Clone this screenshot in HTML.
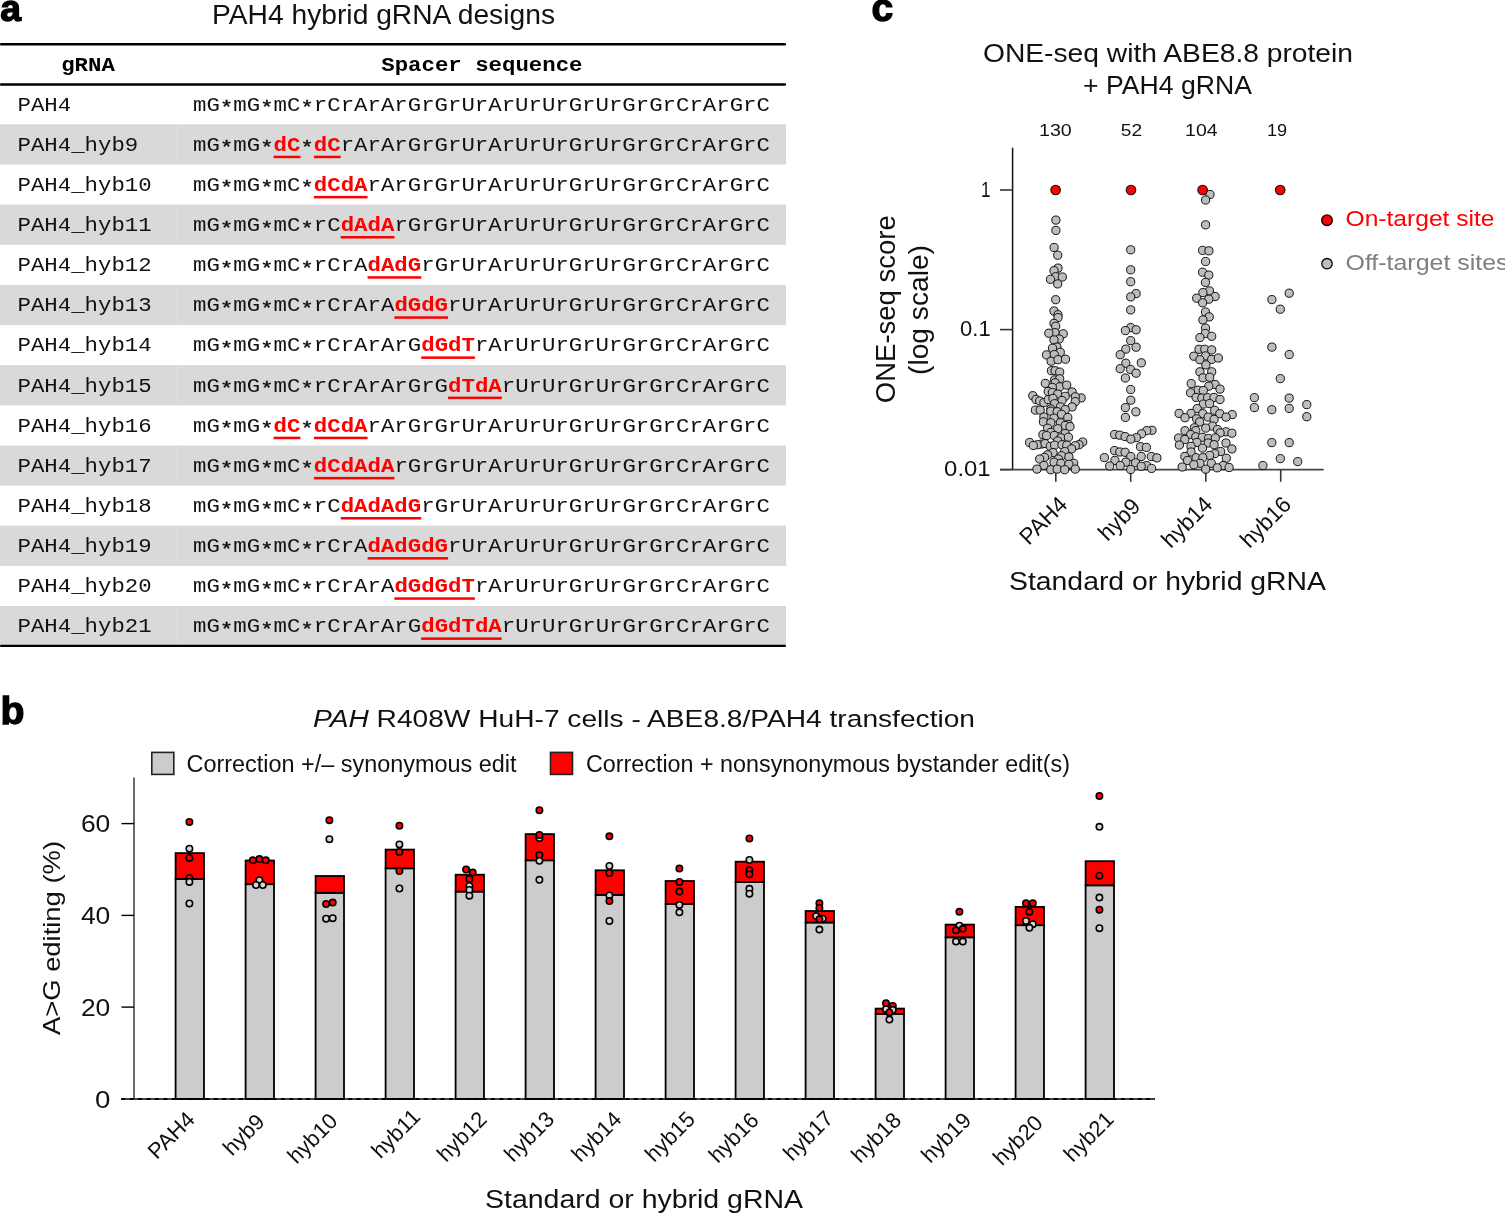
<!DOCTYPE html>
<html><head><meta charset="utf-8"><title>PAH4 hybrid gRNA designs</title>
<style>html,body{margin:0;padding:0;background:#fff;}body{width:1505px;height:1215px;overflow:hidden;}svg{display:block;}</style>
</head><body>
<svg width="1505" height="1215" viewBox="0 0 1505 1215">
<rect width="1505" height="1215" fill="#fff"/>
<text x="0.3" y="21.3" font-size="37.3" font-weight="bold" font-family='"Liberation Sans", "DejaVu Sans", sans-serif' fill="#000" stroke="#000" stroke-width="1.3">a</text>
<text x="212.0" y="24.3" font-size="27" font-family='"Liberation Sans", "DejaVu Sans", sans-serif' textLength="343.0" lengthAdjust="spacingAndGlyphs" fill="#111" >PAH4 hybrid gRNA designs</text>
<rect x="0" y="43.1" width="786" height="2.4" rx="1" fill="#000"/>
<rect x="0" y="83.3" width="786" height="2.5" rx="1" fill="#000"/>
<text transform="matrix(1,0,0,0.875,61.20,70.80)" font-size="22.37" font-family='"Liberation Mono", "DejaVu Sans Mono", monospace' xml:space="preserve"><tspan x="0.00" y="0" font-weight="bold" fill="#000">gRNA</tspan></text>
<text transform="matrix(1,0,0,0.875,381.30,70.80)" font-size="22.37" font-family='"Liberation Mono", "DejaVu Sans Mono", monospace' xml:space="preserve"><tspan x="0.00" y="0" font-weight="bold" fill="#000">Spacer sequence</tspan></text>
<text transform="matrix(1,0,0,0.875,17.50,110.60)" font-size="22.37" font-family='"Liberation Mono", "DejaVu Sans Mono", monospace' xml:space="preserve"><tspan x="0.00" y="0" fill="#111">PAH4</tspan></text>
<text transform="matrix(1,0,0,0.875,193.10,110.60)" font-size="22.37" font-family='"Liberation Mono", "DejaVu Sans Mono", monospace' xml:space="preserve"><tspan x="0.00" y="0" fill="#111">mG</tspan><tspan x="26.97" y="2.97" font-size="21.92" stroke="#111" stroke-width="0.55" fill="#111">*</tspan><tspan x="40.26" y="0" fill="#111">mG</tspan><tspan x="67.23" y="2.97" font-size="21.92" stroke="#111" stroke-width="0.55" fill="#111">*</tspan><tspan x="80.52" y="0" fill="#111">mC</tspan><tspan x="107.49" y="2.97" font-size="21.92" stroke="#111" stroke-width="0.55" fill="#111">*</tspan><tspan x="120.78" y="0" fill="#111">rCrArArGrGrUrArUrUrGrUrGrGrCrArGrC</tspan></text>
<rect x="0" y="124.3" width="786" height="40.2" fill="#d9d9d9"/>
<rect x="176" y="124.3" width="1" height="40.2" fill="#dedede"/>
<text transform="matrix(1,0,0,0.875,17.50,150.74)" font-size="22.37" font-family='"Liberation Mono", "DejaVu Sans Mono", monospace' xml:space="preserve"><tspan x="0.00" y="0" fill="#111">PAH4_hyb9</tspan></text>
<rect x="273.6" y="155.7" width="26.8" height="2.5" fill="#ff0000"/>
<rect x="313.9" y="155.7" width="26.8" height="2.5" fill="#ff0000"/>
<text transform="matrix(1,0,0,0.875,193.10,150.74)" font-size="22.37" font-family='"Liberation Mono", "DejaVu Sans Mono", monospace' xml:space="preserve"><tspan x="0.00" y="0" fill="#111">mG</tspan><tspan x="26.97" y="2.97" font-size="21.92" stroke="#111" stroke-width="0.55" fill="#111">*</tspan><tspan x="40.26" y="0" fill="#111">mG</tspan><tspan x="67.23" y="2.97" font-size="21.92" stroke="#111" stroke-width="0.55" fill="#111">*</tspan><tspan x="80.52" y="0" font-weight="bold" fill="#ff0000">dC</tspan><tspan x="107.49" y="2.97" font-size="21.92" stroke="#111" stroke-width="0.55" fill="#111">*</tspan><tspan x="120.78" y="0" font-weight="bold" fill="#ff0000">dC</tspan><tspan x="147.62" y="0" fill="#111">rArArGrGrUrArUrUrGrUrGrGrCrArGrC</tspan></text>
<text transform="matrix(1,0,0,0.875,17.50,190.88)" font-size="22.37" font-family='"Liberation Mono", "DejaVu Sans Mono", monospace' xml:space="preserve"><tspan x="0.00" y="0" fill="#111">PAH4_hyb10</tspan></text>
<rect x="313.9" y="195.9" width="53.7" height="2.5" fill="#ff0000"/>
<text transform="matrix(1,0,0,0.875,193.10,190.88)" font-size="22.37" font-family='"Liberation Mono", "DejaVu Sans Mono", monospace' xml:space="preserve"><tspan x="0.00" y="0" fill="#111">mG</tspan><tspan x="26.97" y="2.97" font-size="21.92" stroke="#111" stroke-width="0.55" fill="#111">*</tspan><tspan x="40.26" y="0" fill="#111">mG</tspan><tspan x="67.23" y="2.97" font-size="21.92" stroke="#111" stroke-width="0.55" fill="#111">*</tspan><tspan x="80.52" y="0" fill="#111">mC</tspan><tspan x="107.49" y="2.97" font-size="21.92" stroke="#111" stroke-width="0.55" fill="#111">*</tspan><tspan x="120.78" y="0" font-weight="bold" fill="#ff0000">dCdA</tspan><tspan x="174.46" y="0" fill="#111">rArGrGrUrArUrUrGrUrGrGrCrArGrC</tspan></text>
<rect x="0" y="204.6" width="786" height="40.2" fill="#d9d9d9"/>
<rect x="176" y="204.6" width="1" height="40.2" fill="#dedede"/>
<text transform="matrix(1,0,0,0.875,17.50,231.02)" font-size="22.37" font-family='"Liberation Mono", "DejaVu Sans Mono", monospace' xml:space="preserve"><tspan x="0.00" y="0" fill="#111">PAH4_hyb11</tspan></text>
<rect x="340.7" y="236.0" width="53.7" height="2.5" fill="#ff0000"/>
<text transform="matrix(1,0,0,0.875,193.10,231.02)" font-size="22.37" font-family='"Liberation Mono", "DejaVu Sans Mono", monospace' xml:space="preserve"><tspan x="0.00" y="0" fill="#111">mG</tspan><tspan x="26.97" y="2.97" font-size="21.92" stroke="#111" stroke-width="0.55" fill="#111">*</tspan><tspan x="40.26" y="0" fill="#111">mG</tspan><tspan x="67.23" y="2.97" font-size="21.92" stroke="#111" stroke-width="0.55" fill="#111">*</tspan><tspan x="80.52" y="0" fill="#111">mC</tspan><tspan x="107.49" y="2.97" font-size="21.92" stroke="#111" stroke-width="0.55" fill="#111">*</tspan><tspan x="120.78" y="0" fill="#111">rC</tspan><tspan x="147.62" y="0" font-weight="bold" fill="#ff0000">dAdA</tspan><tspan x="201.30" y="0" fill="#111">rGrGrUrArUrUrGrUrGrGrCrArGrC</tspan></text>
<text transform="matrix(1,0,0,0.875,17.50,271.16)" font-size="22.37" font-family='"Liberation Mono", "DejaVu Sans Mono", monospace' xml:space="preserve"><tspan x="0.00" y="0" fill="#111">PAH4_hyb12</tspan></text>
<rect x="367.6" y="276.2" width="53.7" height="2.5" fill="#ff0000"/>
<text transform="matrix(1,0,0,0.875,193.10,271.16)" font-size="22.37" font-family='"Liberation Mono", "DejaVu Sans Mono", monospace' xml:space="preserve"><tspan x="0.00" y="0" fill="#111">mG</tspan><tspan x="26.97" y="2.97" font-size="21.92" stroke="#111" stroke-width="0.55" fill="#111">*</tspan><tspan x="40.26" y="0" fill="#111">mG</tspan><tspan x="67.23" y="2.97" font-size="21.92" stroke="#111" stroke-width="0.55" fill="#111">*</tspan><tspan x="80.52" y="0" fill="#111">mC</tspan><tspan x="107.49" y="2.97" font-size="21.92" stroke="#111" stroke-width="0.55" fill="#111">*</tspan><tspan x="120.78" y="0" fill="#111">rCrA</tspan><tspan x="174.46" y="0" font-weight="bold" fill="#ff0000">dAdG</tspan><tspan x="228.14" y="0" fill="#111">rGrUrArUrUrGrUrGrGrCrArGrC</tspan></text>
<rect x="0" y="284.9" width="786" height="40.2" fill="#d9d9d9"/>
<rect x="176" y="284.9" width="1" height="40.2" fill="#dedede"/>
<text transform="matrix(1,0,0,0.875,17.50,311.30)" font-size="22.37" font-family='"Liberation Mono", "DejaVu Sans Mono", monospace' xml:space="preserve"><tspan x="0.00" y="0" fill="#111">PAH4_hyb13</tspan></text>
<rect x="394.4" y="316.3" width="53.7" height="2.5" fill="#ff0000"/>
<text transform="matrix(1,0,0,0.875,193.10,311.30)" font-size="22.37" font-family='"Liberation Mono", "DejaVu Sans Mono", monospace' xml:space="preserve"><tspan x="0.00" y="0" fill="#111">mG</tspan><tspan x="26.97" y="2.97" font-size="21.92" stroke="#111" stroke-width="0.55" fill="#111">*</tspan><tspan x="40.26" y="0" fill="#111">mG</tspan><tspan x="67.23" y="2.97" font-size="21.92" stroke="#111" stroke-width="0.55" fill="#111">*</tspan><tspan x="80.52" y="0" fill="#111">mC</tspan><tspan x="107.49" y="2.97" font-size="21.92" stroke="#111" stroke-width="0.55" fill="#111">*</tspan><tspan x="120.78" y="0" fill="#111">rCrArA</tspan><tspan x="201.30" y="0" font-weight="bold" fill="#ff0000">dGdG</tspan><tspan x="254.98" y="0" fill="#111">rUrArUrUrGrUrGrGrCrArGrC</tspan></text>
<text transform="matrix(1,0,0,0.875,17.50,351.44)" font-size="22.37" font-family='"Liberation Mono", "DejaVu Sans Mono", monospace' xml:space="preserve"><tspan x="0.00" y="0" fill="#111">PAH4_hyb14</tspan></text>
<rect x="421.2" y="356.4" width="53.7" height="2.5" fill="#ff0000"/>
<text transform="matrix(1,0,0,0.875,193.10,351.44)" font-size="22.37" font-family='"Liberation Mono", "DejaVu Sans Mono", monospace' xml:space="preserve"><tspan x="0.00" y="0" fill="#111">mG</tspan><tspan x="26.97" y="2.97" font-size="21.92" stroke="#111" stroke-width="0.55" fill="#111">*</tspan><tspan x="40.26" y="0" fill="#111">mG</tspan><tspan x="67.23" y="2.97" font-size="21.92" stroke="#111" stroke-width="0.55" fill="#111">*</tspan><tspan x="80.52" y="0" fill="#111">mC</tspan><tspan x="107.49" y="2.97" font-size="21.92" stroke="#111" stroke-width="0.55" fill="#111">*</tspan><tspan x="120.78" y="0" fill="#111">rCrArArG</tspan><tspan x="228.14" y="0" font-weight="bold" fill="#ff0000">dGdT</tspan><tspan x="281.82" y="0" fill="#111">rArUrUrGrUrGrGrCrArGrC</tspan></text>
<rect x="0" y="365.2" width="786" height="40.2" fill="#d9d9d9"/>
<rect x="176" y="365.2" width="1" height="40.2" fill="#dedede"/>
<text transform="matrix(1,0,0,0.875,17.50,391.58)" font-size="22.37" font-family='"Liberation Mono", "DejaVu Sans Mono", monospace' xml:space="preserve"><tspan x="0.00" y="0" fill="#111">PAH4_hyb15</tspan></text>
<rect x="448.1" y="396.6" width="53.7" height="2.5" fill="#ff0000"/>
<text transform="matrix(1,0,0,0.875,193.10,391.58)" font-size="22.37" font-family='"Liberation Mono", "DejaVu Sans Mono", monospace' xml:space="preserve"><tspan x="0.00" y="0" fill="#111">mG</tspan><tspan x="26.97" y="2.97" font-size="21.92" stroke="#111" stroke-width="0.55" fill="#111">*</tspan><tspan x="40.26" y="0" fill="#111">mG</tspan><tspan x="67.23" y="2.97" font-size="21.92" stroke="#111" stroke-width="0.55" fill="#111">*</tspan><tspan x="80.52" y="0" fill="#111">mC</tspan><tspan x="107.49" y="2.97" font-size="21.92" stroke="#111" stroke-width="0.55" fill="#111">*</tspan><tspan x="120.78" y="0" fill="#111">rCrArArGrG</tspan><tspan x="254.98" y="0" font-weight="bold" fill="#ff0000">dTdA</tspan><tspan x="308.66" y="0" fill="#111">rUrUrGrUrGrGrCrArGrC</tspan></text>
<text transform="matrix(1,0,0,0.875,17.50,431.72)" font-size="22.37" font-family='"Liberation Mono", "DejaVu Sans Mono", monospace' xml:space="preserve"><tspan x="0.00" y="0" fill="#111">PAH4_hyb16</tspan></text>
<rect x="273.6" y="436.7" width="26.8" height="2.5" fill="#ff0000"/>
<rect x="313.9" y="436.7" width="53.7" height="2.5" fill="#ff0000"/>
<text transform="matrix(1,0,0,0.875,193.10,431.72)" font-size="22.37" font-family='"Liberation Mono", "DejaVu Sans Mono", monospace' xml:space="preserve"><tspan x="0.00" y="0" fill="#111">mG</tspan><tspan x="26.97" y="2.97" font-size="21.92" stroke="#111" stroke-width="0.55" fill="#111">*</tspan><tspan x="40.26" y="0" fill="#111">mG</tspan><tspan x="67.23" y="2.97" font-size="21.92" stroke="#111" stroke-width="0.55" fill="#111">*</tspan><tspan x="80.52" y="0" font-weight="bold" fill="#ff0000">dC</tspan><tspan x="107.49" y="2.97" font-size="21.92" stroke="#111" stroke-width="0.55" fill="#111">*</tspan><tspan x="120.78" y="0" font-weight="bold" fill="#ff0000">dCdA</tspan><tspan x="174.46" y="0" fill="#111">rArGrGrUrArUrUrGrUrGrGrCrArGrC</tspan></text>
<rect x="0" y="445.5" width="786" height="40.2" fill="#d9d9d9"/>
<rect x="176" y="445.5" width="1" height="40.2" fill="#dedede"/>
<text transform="matrix(1,0,0,0.875,17.50,471.86)" font-size="22.37" font-family='"Liberation Mono", "DejaVu Sans Mono", monospace' xml:space="preserve"><tspan x="0.00" y="0" fill="#111">PAH4_hyb17</tspan></text>
<rect x="313.9" y="476.9" width="80.5" height="2.5" fill="#ff0000"/>
<text transform="matrix(1,0,0,0.875,193.10,471.86)" font-size="22.37" font-family='"Liberation Mono", "DejaVu Sans Mono", monospace' xml:space="preserve"><tspan x="0.00" y="0" fill="#111">mG</tspan><tspan x="26.97" y="2.97" font-size="21.92" stroke="#111" stroke-width="0.55" fill="#111">*</tspan><tspan x="40.26" y="0" fill="#111">mG</tspan><tspan x="67.23" y="2.97" font-size="21.92" stroke="#111" stroke-width="0.55" fill="#111">*</tspan><tspan x="80.52" y="0" fill="#111">mC</tspan><tspan x="107.49" y="2.97" font-size="21.92" stroke="#111" stroke-width="0.55" fill="#111">*</tspan><tspan x="120.78" y="0" font-weight="bold" fill="#ff0000">dCdAdA</tspan><tspan x="201.30" y="0" fill="#111">rGrGrUrArUrUrGrUrGrGrCrArGrC</tspan></text>
<text transform="matrix(1,0,0,0.875,17.50,512.00)" font-size="22.37" font-family='"Liberation Mono", "DejaVu Sans Mono", monospace' xml:space="preserve"><tspan x="0.00" y="0" fill="#111">PAH4_hyb18</tspan></text>
<rect x="340.7" y="517.0" width="80.5" height="2.5" fill="#ff0000"/>
<text transform="matrix(1,0,0,0.875,193.10,512.00)" font-size="22.37" font-family='"Liberation Mono", "DejaVu Sans Mono", monospace' xml:space="preserve"><tspan x="0.00" y="0" fill="#111">mG</tspan><tspan x="26.97" y="2.97" font-size="21.92" stroke="#111" stroke-width="0.55" fill="#111">*</tspan><tspan x="40.26" y="0" fill="#111">mG</tspan><tspan x="67.23" y="2.97" font-size="21.92" stroke="#111" stroke-width="0.55" fill="#111">*</tspan><tspan x="80.52" y="0" fill="#111">mC</tspan><tspan x="107.49" y="2.97" font-size="21.92" stroke="#111" stroke-width="0.55" fill="#111">*</tspan><tspan x="120.78" y="0" fill="#111">rC</tspan><tspan x="147.62" y="0" font-weight="bold" fill="#ff0000">dAdAdG</tspan><tspan x="228.14" y="0" fill="#111">rGrUrArUrUrGrUrGrGrCrArGrC</tspan></text>
<rect x="0" y="525.7" width="786" height="40.2" fill="#d9d9d9"/>
<rect x="176" y="525.7" width="1" height="40.2" fill="#dedede"/>
<text transform="matrix(1,0,0,0.875,17.50,552.14)" font-size="22.37" font-family='"Liberation Mono", "DejaVu Sans Mono", monospace' xml:space="preserve"><tspan x="0.00" y="0" fill="#111">PAH4_hyb19</tspan></text>
<rect x="367.6" y="557.1" width="80.5" height="2.5" fill="#ff0000"/>
<text transform="matrix(1,0,0,0.875,193.10,552.14)" font-size="22.37" font-family='"Liberation Mono", "DejaVu Sans Mono", monospace' xml:space="preserve"><tspan x="0.00" y="0" fill="#111">mG</tspan><tspan x="26.97" y="2.97" font-size="21.92" stroke="#111" stroke-width="0.55" fill="#111">*</tspan><tspan x="40.26" y="0" fill="#111">mG</tspan><tspan x="67.23" y="2.97" font-size="21.92" stroke="#111" stroke-width="0.55" fill="#111">*</tspan><tspan x="80.52" y="0" fill="#111">mC</tspan><tspan x="107.49" y="2.97" font-size="21.92" stroke="#111" stroke-width="0.55" fill="#111">*</tspan><tspan x="120.78" y="0" fill="#111">rCrA</tspan><tspan x="174.46" y="0" font-weight="bold" fill="#ff0000">dAdGdG</tspan><tspan x="254.98" y="0" fill="#111">rUrArUrUrGrUrGrGrCrArGrC</tspan></text>
<text transform="matrix(1,0,0,0.875,17.50,592.28)" font-size="22.37" font-family='"Liberation Mono", "DejaVu Sans Mono", monospace' xml:space="preserve"><tspan x="0.00" y="0" fill="#111">PAH4_hyb20</tspan></text>
<rect x="394.4" y="597.3" width="80.5" height="2.5" fill="#ff0000"/>
<text transform="matrix(1,0,0,0.875,193.10,592.28)" font-size="22.37" font-family='"Liberation Mono", "DejaVu Sans Mono", monospace' xml:space="preserve"><tspan x="0.00" y="0" fill="#111">mG</tspan><tspan x="26.97" y="2.97" font-size="21.92" stroke="#111" stroke-width="0.55" fill="#111">*</tspan><tspan x="40.26" y="0" fill="#111">mG</tspan><tspan x="67.23" y="2.97" font-size="21.92" stroke="#111" stroke-width="0.55" fill="#111">*</tspan><tspan x="80.52" y="0" fill="#111">mC</tspan><tspan x="107.49" y="2.97" font-size="21.92" stroke="#111" stroke-width="0.55" fill="#111">*</tspan><tspan x="120.78" y="0" fill="#111">rCrArA</tspan><tspan x="201.30" y="0" font-weight="bold" fill="#ff0000">dGdGdT</tspan><tspan x="281.82" y="0" fill="#111">rArUrUrGrUrGrGrCrArGrC</tspan></text>
<rect x="0" y="606.0" width="786" height="40.2" fill="#d9d9d9"/>
<rect x="176" y="606.0" width="1" height="40.2" fill="#dedede"/>
<text transform="matrix(1,0,0,0.875,17.50,632.42)" font-size="22.37" font-family='"Liberation Mono", "DejaVu Sans Mono", monospace' xml:space="preserve"><tspan x="0.00" y="0" fill="#111">PAH4_hyb21</tspan></text>
<rect x="421.2" y="637.4" width="80.5" height="2.5" fill="#ff0000"/>
<text transform="matrix(1,0,0,0.875,193.10,632.42)" font-size="22.37" font-family='"Liberation Mono", "DejaVu Sans Mono", monospace' xml:space="preserve"><tspan x="0.00" y="0" fill="#111">mG</tspan><tspan x="26.97" y="2.97" font-size="21.92" stroke="#111" stroke-width="0.55" fill="#111">*</tspan><tspan x="40.26" y="0" fill="#111">mG</tspan><tspan x="67.23" y="2.97" font-size="21.92" stroke="#111" stroke-width="0.55" fill="#111">*</tspan><tspan x="80.52" y="0" fill="#111">mC</tspan><tspan x="107.49" y="2.97" font-size="21.92" stroke="#111" stroke-width="0.55" fill="#111">*</tspan><tspan x="120.78" y="0" fill="#111">rCrArArG</tspan><tspan x="228.14" y="0" font-weight="bold" fill="#ff0000">dGdTdA</tspan><tspan x="308.66" y="0" fill="#111">rUrUrGrUrGrGrCrArGrC</tspan></text>
<rect x="0" y="644.8" width="786" height="2.3" rx="1" fill="#000"/>
<text x="0.5" y="724" font-size="39.3" font-weight="bold" font-family='"Liberation Sans", "DejaVu Sans", sans-serif' fill="#000" stroke="#000" stroke-width="1.3">b</text>
<text x="313" y="727.4" font-size="24.5" font-family='"Liberation Sans", "DejaVu Sans", sans-serif' fill="#111" textLength="662" lengthAdjust="spacingAndGlyphs"><tspan font-style="italic">PAH</tspan> R408W HuH-7 cells - ABE8.8/PAH4 transfection</text>
<rect x="151.8" y="752.4" width="22" height="22" fill="#cccccc" stroke="#222" stroke-width="1.6"/>
<text x="186.5" y="771.9" font-size="23" font-family='"Liberation Sans", "DejaVu Sans", sans-serif' textLength="330.0" lengthAdjust="spacingAndGlyphs" fill="#111" >Correction +/– synonymous edit</text>
<rect x="550.5" y="752.4" width="22" height="22" fill="#ff0000" stroke="#222" stroke-width="1.6"/>
<text x="586.0" y="771.9" font-size="23" font-family='"Liberation Sans", "DejaVu Sans", sans-serif' textLength="484.0" lengthAdjust="spacingAndGlyphs" fill="#111" >Correction + nonsynonymous bystander edit(s)</text>
<line x1="134" y1="777.4" x2="134" y2="1098.9" stroke="#3a3a3a" stroke-width="1.5"/>
<line x1="121.5" y1="1098.9" x2="134" y2="1098.9" stroke="#000" stroke-width="1.4"/>
<text x="110.3" y="1107.5" font-size="23.5" font-family='"Liberation Sans", "DejaVu Sans", sans-serif' text-anchor="end" textLength="15.4" lengthAdjust="spacingAndGlyphs" fill="#111" >0</text>
<line x1="121.5" y1="1007.1" x2="134" y2="1007.1" stroke="#000" stroke-width="1.4"/>
<text x="110.3" y="1015.7" font-size="23.5" font-family='"Liberation Sans", "DejaVu Sans", sans-serif' text-anchor="end" textLength="29.4" lengthAdjust="spacingAndGlyphs" fill="#111" >20</text>
<line x1="121.5" y1="915.4" x2="134" y2="915.4" stroke="#000" stroke-width="1.4"/>
<text x="110.3" y="924.0" font-size="23.5" font-family='"Liberation Sans", "DejaVu Sans", sans-serif' text-anchor="end" textLength="29.4" lengthAdjust="spacingAndGlyphs" fill="#111" >40</text>
<line x1="121.5" y1="823.6" x2="134" y2="823.6" stroke="#000" stroke-width="1.4"/>
<text x="110.3" y="832.2" font-size="23.5" font-family='"Liberation Sans", "DejaVu Sans", sans-serif' text-anchor="end" textLength="29.4" lengthAdjust="spacingAndGlyphs" fill="#111" >60</text>
<line x1="121.3" y1="1098.9" x2="1155" y2="1098.9" stroke="#444" stroke-width="2"/>
<line x1="121.3" y1="1098.9" x2="1155" y2="1098.9" stroke="#000" stroke-width="2" stroke-dasharray="4 4.4"/>
<rect x="175.6" y="879.0" width="28.4" height="219.9" fill="#cccccc" stroke="#000" stroke-width="1.8"/>
<rect x="175.6" y="853.1" width="28.4" height="25.9" fill="#ff0000" stroke="#000" stroke-width="1.8"/>
<rect x="245.6" y="884.2" width="28.4" height="214.7" fill="#cccccc" stroke="#000" stroke-width="1.8"/>
<rect x="245.6" y="860.5" width="28.4" height="23.7" fill="#ff0000" stroke="#000" stroke-width="1.8"/>
<rect x="315.6" y="892.8" width="28.4" height="206.1" fill="#cccccc" stroke="#000" stroke-width="1.8"/>
<rect x="315.6" y="876.0" width="28.4" height="16.8" fill="#ff0000" stroke="#000" stroke-width="1.8"/>
<rect x="385.6" y="868.3" width="28.4" height="230.6" fill="#cccccc" stroke="#000" stroke-width="1.8"/>
<rect x="385.6" y="849.6" width="28.4" height="18.7" fill="#ff0000" stroke="#000" stroke-width="1.8"/>
<rect x="455.6" y="891.6" width="28.4" height="207.3" fill="#cccccc" stroke="#000" stroke-width="1.8"/>
<rect x="455.6" y="874.7" width="28.4" height="16.9" fill="#ff0000" stroke="#000" stroke-width="1.8"/>
<rect x="525.6" y="860.3" width="28.4" height="238.6" fill="#cccccc" stroke="#000" stroke-width="1.8"/>
<rect x="525.6" y="834.1" width="28.4" height="26.2" fill="#ff0000" stroke="#000" stroke-width="1.8"/>
<rect x="595.6" y="894.9" width="28.4" height="204.0" fill="#cccccc" stroke="#000" stroke-width="1.8"/>
<rect x="595.6" y="870.3" width="28.4" height="24.6" fill="#ff0000" stroke="#000" stroke-width="1.8"/>
<rect x="665.6" y="904.0" width="28.4" height="194.9" fill="#cccccc" stroke="#000" stroke-width="1.8"/>
<rect x="665.6" y="881.0" width="28.4" height="23.0" fill="#ff0000" stroke="#000" stroke-width="1.8"/>
<rect x="735.6" y="882.1" width="28.4" height="216.8" fill="#cccccc" stroke="#000" stroke-width="1.8"/>
<rect x="735.6" y="861.7" width="28.4" height="20.4" fill="#ff0000" stroke="#000" stroke-width="1.8"/>
<rect x="805.6" y="922.5" width="28.4" height="176.4" fill="#cccccc" stroke="#000" stroke-width="1.8"/>
<rect x="805.6" y="911.0" width="28.4" height="11.5" fill="#ff0000" stroke="#000" stroke-width="1.8"/>
<rect x="875.6" y="1013.9" width="28.4" height="85.0" fill="#cccccc" stroke="#000" stroke-width="1.8"/>
<rect x="875.6" y="1008.6" width="28.4" height="5.3" fill="#ff0000" stroke="#000" stroke-width="1.8"/>
<rect x="945.6" y="937.3" width="28.4" height="161.6" fill="#cccccc" stroke="#000" stroke-width="1.8"/>
<rect x="945.6" y="924.6" width="28.4" height="12.7" fill="#ff0000" stroke="#000" stroke-width="1.8"/>
<rect x="1015.6" y="925.2" width="28.4" height="173.7" fill="#cccccc" stroke="#000" stroke-width="1.8"/>
<rect x="1015.6" y="906.9" width="28.4" height="18.3" fill="#ff0000" stroke="#000" stroke-width="1.8"/>
<rect x="1085.6" y="885.3" width="28.4" height="213.6" fill="#cccccc" stroke="#000" stroke-width="1.8"/>
<rect x="1085.6" y="861.2" width="28.4" height="24.1" fill="#ff0000" stroke="#000" stroke-width="1.8"/>
<circle cx="189.4" cy="822.0" r="3.2" fill="#ff0000" stroke="#000" stroke-width="1.6"/>
<circle cx="189.4" cy="848.7" r="3.2" fill="#d4d4d4" stroke="#000" stroke-width="1.6"/>
<circle cx="189.4" cy="857.9" r="3.2" fill="#ff0000" stroke="#000" stroke-width="1.6"/>
<circle cx="189.4" cy="878.1" r="3.2" fill="#ff0000" stroke="#000" stroke-width="1.6"/>
<circle cx="189.4" cy="881.9" r="3.2" fill="#d4d4d4" stroke="#000" stroke-width="1.6"/>
<circle cx="189.4" cy="903.5" r="3.2" fill="#d4d4d4" stroke="#000" stroke-width="1.6"/>
<circle cx="252.9" cy="860.3" r="3.2" fill="#ff0000" stroke="#000" stroke-width="1.6"/>
<circle cx="259.4" cy="859.1" r="3.2" fill="#ff0000" stroke="#000" stroke-width="1.6"/>
<circle cx="265.8" cy="860.3" r="3.2" fill="#ff0000" stroke="#000" stroke-width="1.6"/>
<circle cx="259.4" cy="880.2" r="3.2" fill="#d4d4d4" stroke="#000" stroke-width="1.6"/>
<circle cx="256.0" cy="885.0" r="3.2" fill="#d4d4d4" stroke="#000" stroke-width="1.6"/>
<circle cx="262.8" cy="885.0" r="3.2" fill="#d4d4d4" stroke="#000" stroke-width="1.6"/>
<circle cx="329.4" cy="820.2" r="3.2" fill="#ff0000" stroke="#000" stroke-width="1.6"/>
<circle cx="329.4" cy="839.2" r="3.2" fill="#d4d4d4" stroke="#000" stroke-width="1.6"/>
<circle cx="326.1" cy="904.0" r="3.2" fill="#ff0000" stroke="#000" stroke-width="1.6"/>
<circle cx="332.7" cy="902.6" r="3.2" fill="#ff0000" stroke="#000" stroke-width="1.6"/>
<circle cx="326.1" cy="918.7" r="3.2" fill="#d4d4d4" stroke="#000" stroke-width="1.6"/>
<circle cx="332.7" cy="918.2" r="3.2" fill="#d4d4d4" stroke="#000" stroke-width="1.6"/>
<circle cx="399.4" cy="825.8" r="3.2" fill="#ff0000" stroke="#000" stroke-width="1.6"/>
<circle cx="399.4" cy="844.4" r="3.2" fill="#d4d4d4" stroke="#000" stroke-width="1.6"/>
<circle cx="399.4" cy="851.9" r="3.2" fill="#ff0000" stroke="#000" stroke-width="1.6"/>
<circle cx="399.4" cy="870.9" r="3.2" fill="#ff0000" stroke="#000" stroke-width="1.6"/>
<circle cx="399.4" cy="888.5" r="3.2" fill="#d4d4d4" stroke="#000" stroke-width="1.6"/>
<circle cx="466.1" cy="869.5" r="3.2" fill="#ff0000" stroke="#000" stroke-width="1.6"/>
<circle cx="472.7" cy="872.6" r="3.2" fill="#ff0000" stroke="#000" stroke-width="1.6"/>
<circle cx="469.4" cy="879.0" r="3.2" fill="#ff0000" stroke="#000" stroke-width="1.6"/>
<circle cx="469.4" cy="885.9" r="3.2" fill="#d4d4d4" stroke="#000" stroke-width="1.6"/>
<circle cx="469.4" cy="889.9" r="3.2" fill="#d4d4d4" stroke="#000" stroke-width="1.6"/>
<circle cx="469.4" cy="895.7" r="3.2" fill="#d4d4d4" stroke="#000" stroke-width="1.6"/>
<circle cx="539.4" cy="810.2" r="3.2" fill="#ff0000" stroke="#000" stroke-width="1.6"/>
<circle cx="539.4" cy="838.0" r="3.2" fill="#d4d4d4" stroke="#000" stroke-width="1.6"/>
<circle cx="539.4" cy="834.9" r="3.2" fill="#ff0000" stroke="#000" stroke-width="1.6"/>
<circle cx="539.4" cy="855.1" r="3.2" fill="#ff0000" stroke="#000" stroke-width="1.6"/>
<circle cx="539.4" cy="860.8" r="3.2" fill="#d4d4d4" stroke="#000" stroke-width="1.6"/>
<circle cx="539.4" cy="879.8" r="3.2" fill="#d4d4d4" stroke="#000" stroke-width="1.6"/>
<circle cx="609.4" cy="836.3" r="3.2" fill="#ff0000" stroke="#000" stroke-width="1.6"/>
<circle cx="609.4" cy="866.0" r="3.2" fill="#d4d4d4" stroke="#000" stroke-width="1.6"/>
<circle cx="609.4" cy="872.9" r="3.2" fill="#ff0000" stroke="#000" stroke-width="1.6"/>
<circle cx="609.4" cy="895.4" r="3.2" fill="#d4d4d4" stroke="#000" stroke-width="1.6"/>
<circle cx="609.4" cy="901.1" r="3.2" fill="#ff0000" stroke="#000" stroke-width="1.6"/>
<circle cx="609.4" cy="921.0" r="3.2" fill="#d4d4d4" stroke="#000" stroke-width="1.6"/>
<circle cx="679.4" cy="868.6" r="3.2" fill="#ff0000" stroke="#000" stroke-width="1.6"/>
<circle cx="679.4" cy="881.9" r="3.2" fill="#ff0000" stroke="#000" stroke-width="1.6"/>
<circle cx="679.4" cy="891.6" r="3.2" fill="#ff0000" stroke="#000" stroke-width="1.6"/>
<circle cx="679.4" cy="904.9" r="3.2" fill="#d4d4d4" stroke="#000" stroke-width="1.6"/>
<circle cx="679.4" cy="912.3" r="3.2" fill="#d4d4d4" stroke="#000" stroke-width="1.6"/>
<circle cx="749.4" cy="838.4" r="3.2" fill="#ff0000" stroke="#000" stroke-width="1.6"/>
<circle cx="749.4" cy="860.0" r="3.2" fill="#d4d4d4" stroke="#000" stroke-width="1.6"/>
<circle cx="749.4" cy="870.3" r="3.2" fill="#ff0000" stroke="#000" stroke-width="1.6"/>
<circle cx="749.4" cy="874.3" r="3.2" fill="#ff0000" stroke="#000" stroke-width="1.6"/>
<circle cx="749.4" cy="888.8" r="3.2" fill="#d4d4d4" stroke="#000" stroke-width="1.6"/>
<circle cx="749.4" cy="893.7" r="3.2" fill="#d4d4d4" stroke="#000" stroke-width="1.6"/>
<circle cx="819.4" cy="903.2" r="3.2" fill="#ff0000" stroke="#000" stroke-width="1.6"/>
<circle cx="819.4" cy="908.0" r="3.2" fill="#ff0000" stroke="#000" stroke-width="1.6"/>
<circle cx="816.1" cy="916.1" r="3.2" fill="#d4d4d4" stroke="#000" stroke-width="1.6"/>
<circle cx="822.7" cy="918.7" r="3.2" fill="#d4d4d4" stroke="#000" stroke-width="1.6"/>
<circle cx="819.4" cy="919.2" r="3.2" fill="#ff0000" stroke="#000" stroke-width="1.6"/>
<circle cx="819.4" cy="929.6" r="3.2" fill="#d4d4d4" stroke="#000" stroke-width="1.6"/>
<circle cx="886.0" cy="1003.3" r="3.2" fill="#ff0000" stroke="#000" stroke-width="1.6"/>
<circle cx="892.8" cy="1006.0" r="3.2" fill="#ff0000" stroke="#000" stroke-width="1.6"/>
<circle cx="886.0" cy="1009.2" r="3.2" fill="#d4d4d4" stroke="#000" stroke-width="1.6"/>
<circle cx="892.8" cy="1010.0" r="3.2" fill="#d4d4d4" stroke="#000" stroke-width="1.6"/>
<circle cx="889.4" cy="1012.4" r="3.2" fill="#ff0000" stroke="#000" stroke-width="1.6"/>
<circle cx="889.4" cy="1019.6" r="3.2" fill="#d4d4d4" stroke="#000" stroke-width="1.6"/>
<circle cx="959.4" cy="911.8" r="3.2" fill="#ff0000" stroke="#000" stroke-width="1.6"/>
<circle cx="959.4" cy="925.7" r="3.2" fill="#d4d4d4" stroke="#000" stroke-width="1.6"/>
<circle cx="956.0" cy="930.3" r="3.2" fill="#ff0000" stroke="#000" stroke-width="1.6"/>
<circle cx="962.8" cy="928.8" r="3.2" fill="#ff0000" stroke="#000" stroke-width="1.6"/>
<circle cx="956.0" cy="941.6" r="3.2" fill="#d4d4d4" stroke="#000" stroke-width="1.6"/>
<circle cx="962.8" cy="941.6" r="3.2" fill="#d4d4d4" stroke="#000" stroke-width="1.6"/>
<circle cx="1026.0" cy="903.3" r="3.2" fill="#ff0000" stroke="#000" stroke-width="1.6"/>
<circle cx="1032.8" cy="903.3" r="3.2" fill="#ff0000" stroke="#000" stroke-width="1.6"/>
<circle cx="1029.4" cy="911.8" r="3.2" fill="#ff0000" stroke="#000" stroke-width="1.6"/>
<circle cx="1026.0" cy="921.0" r="3.2" fill="#d4d4d4" stroke="#000" stroke-width="1.6"/>
<circle cx="1032.8" cy="924.2" r="3.2" fill="#d4d4d4" stroke="#000" stroke-width="1.6"/>
<circle cx="1029.4" cy="927.8" r="3.2" fill="#d4d4d4" stroke="#000" stroke-width="1.6"/>
<circle cx="1099.4" cy="796.0" r="3.2" fill="#ff0000" stroke="#000" stroke-width="1.6"/>
<circle cx="1099.4" cy="826.8" r="3.2" fill="#d4d4d4" stroke="#000" stroke-width="1.6"/>
<circle cx="1099.4" cy="875.7" r="3.2" fill="#ff0000" stroke="#000" stroke-width="1.6"/>
<circle cx="1099.4" cy="897.6" r="3.2" fill="#d4d4d4" stroke="#000" stroke-width="1.6"/>
<circle cx="1099.4" cy="909.7" r="3.2" fill="#ff0000" stroke="#000" stroke-width="1.6"/>
<circle cx="1099.4" cy="928.2" r="3.2" fill="#d4d4d4" stroke="#000" stroke-width="1.6"/>
<text transform="translate(156.7,1160.3) rotate(-45)" font-size="22" font-family='"Liberation Sans", "DejaVu Sans", sans-serif' fill="#111" textLength="55.8" lengthAdjust="spacingAndGlyphs">PAH4</text>
<text transform="translate(232.1,1156.7) rotate(-45)" font-size="22" font-family='"Liberation Sans", "DejaVu Sans", sans-serif' fill="#111" textLength="47.7" lengthAdjust="spacingAndGlyphs">hyb9</text>
<text transform="translate(296.6,1164.8) rotate(-45)" font-size="22" font-family='"Liberation Sans", "DejaVu Sans", sans-serif' fill="#111" textLength="59.9" lengthAdjust="spacingAndGlyphs">hyb10</text>
<text transform="translate(380.4,1159.4) rotate(-45)" font-size="22" font-family='"Liberation Sans", "DejaVu Sans", sans-serif' fill="#111" textLength="58.3" lengthAdjust="spacingAndGlyphs">hyb11</text>
<text transform="translate(445.9,1163.0) rotate(-45)" font-size="22" font-family='"Liberation Sans", "DejaVu Sans", sans-serif' fill="#111" textLength="59.9" lengthAdjust="spacingAndGlyphs">hyb12</text>
<text transform="translate(513.2,1163.0) rotate(-45)" font-size="22" font-family='"Liberation Sans", "DejaVu Sans", sans-serif' fill="#111" textLength="59.9" lengthAdjust="spacingAndGlyphs">hyb13</text>
<text transform="translate(580.5,1163.0) rotate(-45)" font-size="22" font-family='"Liberation Sans", "DejaVu Sans", sans-serif' fill="#111" textLength="59.9" lengthAdjust="spacingAndGlyphs">hyb14</text>
<text transform="translate(654.0,1163.0) rotate(-45)" font-size="22" font-family='"Liberation Sans", "DejaVu Sans", sans-serif' fill="#111" textLength="59.9" lengthAdjust="spacingAndGlyphs">hyb15</text>
<text transform="translate(717.7,1163.9) rotate(-45)" font-size="22" font-family='"Liberation Sans", "DejaVu Sans", sans-serif' fill="#111" textLength="59.9" lengthAdjust="spacingAndGlyphs">hyb16</text>
<text transform="translate(792.2,1162.1) rotate(-45)" font-size="22" font-family='"Liberation Sans", "DejaVu Sans", sans-serif' fill="#111" textLength="59.9" lengthAdjust="spacingAndGlyphs">hyb17</text>
<text transform="translate(860.3,1163.9) rotate(-45)" font-size="22" font-family='"Liberation Sans", "DejaVu Sans", sans-serif' fill="#111" textLength="59.9" lengthAdjust="spacingAndGlyphs">hyb18</text>
<text transform="translate(930.2,1163.9) rotate(-45)" font-size="22" font-family='"Liberation Sans", "DejaVu Sans", sans-serif' fill="#111" textLength="59.9" lengthAdjust="spacingAndGlyphs">hyb19</text>
<text transform="translate(1001.9,1166.6) rotate(-45)" font-size="22" font-family='"Liberation Sans", "DejaVu Sans", sans-serif' fill="#111" textLength="59.9" lengthAdjust="spacingAndGlyphs">hyb20</text>
<text transform="translate(1072.8,1163.0) rotate(-45)" font-size="22" font-family='"Liberation Sans", "DejaVu Sans", sans-serif' fill="#111" textLength="59.9" lengthAdjust="spacingAndGlyphs">hyb21</text>
<text transform="translate(59.5,938) rotate(-90)" text-anchor="middle" font-size="24" font-family='"Liberation Sans", "DejaVu Sans", sans-serif' fill="#111" textLength="194" lengthAdjust="spacingAndGlyphs">A&gt;G editing (%)</text>
<text x="485.0" y="1207.8" font-size="25.5" font-family='"Liberation Sans", "DejaVu Sans", sans-serif' textLength="318.0" lengthAdjust="spacingAndGlyphs" fill="#111" >Standard or hybrid gRNA</text>
<text x="871.5" y="21.3" font-size="39" font-weight="bold" font-family='"Liberation Sans", "DejaVu Sans", sans-serif' fill="#000" stroke="#000" stroke-width="1.3">c</text>
<text x="983.0" y="61.9" font-size="25.5" font-family='"Liberation Sans", "DejaVu Sans", sans-serif' textLength="370.0" lengthAdjust="spacingAndGlyphs" fill="#111" >ONE-seq with ABE8.8 protein</text>
<text x="1083.0" y="94.3" font-size="25.5" font-family='"Liberation Sans", "DejaVu Sans", sans-serif' textLength="169.0" lengthAdjust="spacingAndGlyphs" fill="#111" >+ PAH4 gRNA</text>
<text x="1055.4" y="136.3" font-size="17" font-family='"Liberation Sans", "DejaVu Sans", sans-serif' text-anchor="middle" textLength="32.8" lengthAdjust="spacingAndGlyphs" fill="#111" >130</text>
<text x="1131.5" y="136.3" font-size="17" font-family='"Liberation Sans", "DejaVu Sans", sans-serif' text-anchor="middle" textLength="21.3" lengthAdjust="spacingAndGlyphs" fill="#111" >52</text>
<text x="1201.3" y="136.3" font-size="17" font-family='"Liberation Sans", "DejaVu Sans", sans-serif' text-anchor="middle" textLength="32.5" lengthAdjust="spacingAndGlyphs" fill="#111" >104</text>
<text x="1277.0" y="136.3" font-size="17" font-family='"Liberation Sans", "DejaVu Sans", sans-serif' text-anchor="middle" textLength="20.2" lengthAdjust="spacingAndGlyphs" fill="#111" >19</text>
<line x1="1012.6" y1="147.8" x2="1012.6" y2="469.6" stroke="#111" stroke-width="1.5"/>
<line x1="1000" y1="190" x2="1012.6" y2="190" stroke="#333" stroke-width="1.6"/>
<text x="990.6" y="196.8" font-size="22.4" font-family='"Liberation Sans", "DejaVu Sans", sans-serif' text-anchor="end" textLength="9.5" lengthAdjust="spacingAndGlyphs" fill="#111" >1</text>
<line x1="1000" y1="329.6" x2="1012.6" y2="329.6" stroke="#333" stroke-width="1.6"/>
<text x="990.6" y="336.4" font-size="22.4" font-family='"Liberation Sans", "DejaVu Sans", sans-serif' text-anchor="end" textLength="30.5" lengthAdjust="spacingAndGlyphs" fill="#111" >0.1</text>
<line x1="1000" y1="469.6" x2="1012.6" y2="469.6" stroke="#333" stroke-width="1.6"/>
<text x="990.6" y="476.4" font-size="22.4" font-family='"Liberation Sans", "DejaVu Sans", sans-serif' text-anchor="end" textLength="46.5" lengthAdjust="spacingAndGlyphs" fill="#111" >0.01</text>
<line x1="1000" y1="469.6" x2="1323.7" y2="469.6" stroke="#444" stroke-width="1.6"/>
<line x1="1055.8" y1="469.6" x2="1055.8" y2="481.8" stroke="#333" stroke-width="1.6"/>
<line x1="1130.7" y1="469.6" x2="1130.7" y2="481.8" stroke="#333" stroke-width="1.6"/>
<line x1="1205.8" y1="469.6" x2="1205.8" y2="481.8" stroke="#333" stroke-width="1.6"/>
<line x1="1280.7" y1="469.6" x2="1280.7" y2="481.8" stroke="#333" stroke-width="1.6"/>
<text transform="translate(1028.7,545.9) rotate(-45)" font-size="23" font-family='"Liberation Sans", "DejaVu Sans", sans-serif' fill="#111" textLength="56.6" lengthAdjust="spacingAndGlyphs">PAH4</text>
<text transform="translate(1107.5,542.0) rotate(-45)" font-size="23" font-family='"Liberation Sans", "DejaVu Sans", sans-serif' fill="#111" textLength="48.4" lengthAdjust="spacingAndGlyphs">hyb9</text>
<text transform="translate(1170.8,549.0) rotate(-45)" font-size="23" font-family='"Liberation Sans", "DejaVu Sans", sans-serif' fill="#111" textLength="60.8" lengthAdjust="spacingAndGlyphs">hyb14</text>
<text transform="translate(1249.6,548.9) rotate(-45)" font-size="23" font-family='"Liberation Sans", "DejaVu Sans", sans-serif' fill="#111" textLength="60.8" lengthAdjust="spacingAndGlyphs">hyb16</text>
<text x="1009.0" y="589.8" font-size="25.5" font-family='"Liberation Sans", "DejaVu Sans", sans-serif' textLength="317.0" lengthAdjust="spacingAndGlyphs" fill="#111" >Standard or hybrid gRNA</text>
<text transform="translate(895.3,309.2) rotate(-90)" text-anchor="middle" font-size="27" font-family='"Liberation Sans", "DejaVu Sans", sans-serif' fill="#111" textLength="188" lengthAdjust="spacingAndGlyphs">ONE-seq score</text>
<text transform="translate(928.4,310) rotate(-90)" text-anchor="middle" font-size="27" font-family='"Liberation Sans", "DejaVu Sans", sans-serif' fill="#111" textLength="130" lengthAdjust="spacingAndGlyphs">(log scale)</text>
<circle cx="1327" cy="220.2" r="5.3" fill="#ff0000" stroke="#000" stroke-width="1.3"/>
<text x="1345.5" y="226.4" font-size="21.5" font-family='"Liberation Sans", "DejaVu Sans", sans-serif' textLength="149.0" lengthAdjust="spacingAndGlyphs" fill="#ff0000" >On-target site</text>
<circle cx="1327" cy="263.7" r="5.2" fill="#bdbdbd" stroke="#000" stroke-width="1.3"/>
<text x="1345.5" y="270.0" font-size="21.5" font-family='"Liberation Sans", "DejaVu Sans", sans-serif' textLength="163.0" lengthAdjust="spacingAndGlyphs" fill="#7f7f7f" >Off-target sites</text>
<circle cx="1055.9" cy="220.1" r="4.1" fill="#bdbdbd" stroke="#111" stroke-width="1"/>
<circle cx="1055.9" cy="230.4" r="4.1" fill="#bdbdbd" stroke="#111" stroke-width="1"/>
<circle cx="1054.1" cy="247.5" r="4.1" fill="#bdbdbd" stroke="#111" stroke-width="1"/>
<circle cx="1057.7" cy="255.2" r="4.1" fill="#bdbdbd" stroke="#111" stroke-width="1"/>
<circle cx="1058.0" cy="268.1" r="4.1" fill="#bdbdbd" stroke="#111" stroke-width="1"/>
<circle cx="1054.0" cy="270.7" r="4.1" fill="#bdbdbd" stroke="#111" stroke-width="1"/>
<circle cx="1055.7" cy="276.7" r="4.1" fill="#bdbdbd" stroke="#111" stroke-width="1"/>
<circle cx="1050.5" cy="279.3" r="4.1" fill="#bdbdbd" stroke="#111" stroke-width="1"/>
<circle cx="1062.3" cy="277.0" r="4.1" fill="#bdbdbd" stroke="#111" stroke-width="1"/>
<circle cx="1057.7" cy="283.9" r="4.1" fill="#bdbdbd" stroke="#111" stroke-width="1"/>
<circle cx="1055.7" cy="299.7" r="4.1" fill="#bdbdbd" stroke="#111" stroke-width="1"/>
<circle cx="1054.0" cy="311.0" r="4.1" fill="#bdbdbd" stroke="#111" stroke-width="1"/>
<circle cx="1058.0" cy="314.7" r="4.1" fill="#bdbdbd" stroke="#111" stroke-width="1"/>
<circle cx="1058.0" cy="317.6" r="4.1" fill="#bdbdbd" stroke="#111" stroke-width="1"/>
<circle cx="1054.0" cy="323.4" r="4.1" fill="#bdbdbd" stroke="#111" stroke-width="1"/>
<circle cx="1055.7" cy="326.2" r="4.1" fill="#bdbdbd" stroke="#111" stroke-width="1"/>
<circle cx="1055.1" cy="332.7" r="4.1" fill="#bdbdbd" stroke="#111" stroke-width="1"/>
<circle cx="1048.8" cy="333.2" r="4.1" fill="#bdbdbd" stroke="#111" stroke-width="1"/>
<circle cx="1063.2" cy="333.8" r="4.1" fill="#bdbdbd" stroke="#111" stroke-width="1"/>
<circle cx="1059.2" cy="339.0" r="4.1" fill="#bdbdbd" stroke="#111" stroke-width="1"/>
<circle cx="1054.0" cy="339.9" r="4.1" fill="#bdbdbd" stroke="#111" stroke-width="1"/>
<circle cx="1056.9" cy="347.1" r="4.1" fill="#bdbdbd" stroke="#111" stroke-width="1"/>
<circle cx="1052.5" cy="348.2" r="4.1" fill="#bdbdbd" stroke="#111" stroke-width="1"/>
<circle cx="1060.3" cy="352.3" r="4.1" fill="#bdbdbd" stroke="#111" stroke-width="1"/>
<circle cx="1046.5" cy="354.9" r="4.1" fill="#bdbdbd" stroke="#111" stroke-width="1"/>
<circle cx="1054.3" cy="354.6" r="4.1" fill="#bdbdbd" stroke="#111" stroke-width="1"/>
<circle cx="1051.1" cy="361.2" r="4.1" fill="#bdbdbd" stroke="#111" stroke-width="1"/>
<circle cx="1058.0" cy="359.7" r="4.1" fill="#bdbdbd" stroke="#111" stroke-width="1"/>
<circle cx="1065.5" cy="359.2" r="4.1" fill="#bdbdbd" stroke="#111" stroke-width="1"/>
<circle cx="1051.4" cy="370.7" r="4.1" fill="#bdbdbd" stroke="#111" stroke-width="1"/>
<circle cx="1055.1" cy="370.7" r="4.1" fill="#bdbdbd" stroke="#111" stroke-width="1"/>
<circle cx="1059.7" cy="372.1" r="4.1" fill="#bdbdbd" stroke="#111" stroke-width="1"/>
<circle cx="1054.6" cy="379.9" r="4.1" fill="#bdbdbd" stroke="#111" stroke-width="1"/>
<circle cx="1059.7" cy="378.8" r="4.1" fill="#bdbdbd" stroke="#111" stroke-width="1"/>
<circle cx="1045.3" cy="383.4" r="4.1" fill="#bdbdbd" stroke="#111" stroke-width="1"/>
<circle cx="1055.1" cy="382.8" r="4.1" fill="#bdbdbd" stroke="#111" stroke-width="1"/>
<circle cx="1059.7" cy="386.8" r="4.1" fill="#bdbdbd" stroke="#111" stroke-width="1"/>
<circle cx="1066.7" cy="385.1" r="4.1" fill="#bdbdbd" stroke="#111" stroke-width="1"/>
<circle cx="1052.3" cy="387.4" r="4.1" fill="#bdbdbd" stroke="#111" stroke-width="1"/>
<circle cx="1048.2" cy="391.5" r="4.1" fill="#bdbdbd" stroke="#111" stroke-width="1"/>
<circle cx="1052.4" cy="392.5" r="4.1" fill="#bdbdbd" stroke="#111" stroke-width="1"/>
<circle cx="1057.7" cy="394.1" r="4.1" fill="#bdbdbd" stroke="#111" stroke-width="1"/>
<circle cx="1072.1" cy="392.0" r="4.1" fill="#bdbdbd" stroke="#111" stroke-width="1"/>
<circle cx="1065.2" cy="396.3" r="4.1" fill="#bdbdbd" stroke="#111" stroke-width="1"/>
<circle cx="1081.1" cy="397.9" r="4.1" fill="#bdbdbd" stroke="#111" stroke-width="1"/>
<circle cx="1075.3" cy="396.8" r="4.1" fill="#bdbdbd" stroke="#111" stroke-width="1"/>
<circle cx="1032.8" cy="395.7" r="4.1" fill="#bdbdbd" stroke="#111" stroke-width="1"/>
<circle cx="1036.0" cy="399.5" r="4.1" fill="#bdbdbd" stroke="#111" stroke-width="1"/>
<circle cx="1039.7" cy="401.0" r="4.1" fill="#bdbdbd" stroke="#111" stroke-width="1"/>
<circle cx="1043.9" cy="402.6" r="4.1" fill="#bdbdbd" stroke="#111" stroke-width="1"/>
<circle cx="1048.2" cy="399.5" r="4.1" fill="#bdbdbd" stroke="#111" stroke-width="1"/>
<circle cx="1053.0" cy="398.4" r="4.1" fill="#bdbdbd" stroke="#111" stroke-width="1"/>
<circle cx="1062.0" cy="400.5" r="4.1" fill="#bdbdbd" stroke="#111" stroke-width="1"/>
<circle cx="1054.6" cy="403.7" r="4.1" fill="#bdbdbd" stroke="#111" stroke-width="1"/>
<circle cx="1075.3" cy="401.6" r="4.1" fill="#bdbdbd" stroke="#111" stroke-width="1"/>
<circle cx="1060.4" cy="406.9" r="4.1" fill="#bdbdbd" stroke="#111" stroke-width="1"/>
<circle cx="1072.1" cy="406.9" r="4.1" fill="#bdbdbd" stroke="#111" stroke-width="1"/>
<circle cx="1035.4" cy="410.1" r="4.1" fill="#bdbdbd" stroke="#111" stroke-width="1"/>
<circle cx="1040.2" cy="410.1" r="4.1" fill="#bdbdbd" stroke="#111" stroke-width="1"/>
<circle cx="1050.8" cy="409.0" r="4.1" fill="#bdbdbd" stroke="#111" stroke-width="1"/>
<circle cx="1050.8" cy="411.2" r="4.1" fill="#bdbdbd" stroke="#111" stroke-width="1"/>
<circle cx="1057.2" cy="411.7" r="4.1" fill="#bdbdbd" stroke="#111" stroke-width="1"/>
<circle cx="1065.2" cy="409.6" r="4.1" fill="#bdbdbd" stroke="#111" stroke-width="1"/>
<circle cx="1061.5" cy="414.3" r="4.1" fill="#bdbdbd" stroke="#111" stroke-width="1"/>
<circle cx="1043.9" cy="417.0" r="4.1" fill="#bdbdbd" stroke="#111" stroke-width="1"/>
<circle cx="1054.0" cy="418.1" r="4.1" fill="#bdbdbd" stroke="#111" stroke-width="1"/>
<circle cx="1067.8" cy="417.5" r="4.1" fill="#bdbdbd" stroke="#111" stroke-width="1"/>
<circle cx="1043.4" cy="421.8" r="4.1" fill="#bdbdbd" stroke="#111" stroke-width="1"/>
<circle cx="1050.8" cy="422.8" r="4.1" fill="#bdbdbd" stroke="#111" stroke-width="1"/>
<circle cx="1060.4" cy="422.8" r="4.1" fill="#bdbdbd" stroke="#111" stroke-width="1"/>
<circle cx="1068.4" cy="424.4" r="4.1" fill="#bdbdbd" stroke="#111" stroke-width="1"/>
<circle cx="1065.2" cy="425.5" r="4.1" fill="#bdbdbd" stroke="#111" stroke-width="1"/>
<circle cx="1047.6" cy="428.2" r="4.1" fill="#bdbdbd" stroke="#111" stroke-width="1"/>
<circle cx="1057.7" cy="428.7" r="4.1" fill="#bdbdbd" stroke="#111" stroke-width="1"/>
<circle cx="1070.0" cy="426.6" r="4.1" fill="#bdbdbd" stroke="#111" stroke-width="1"/>
<circle cx="1050.8" cy="432.4" r="4.1" fill="#bdbdbd" stroke="#111" stroke-width="1"/>
<circle cx="1065.2" cy="433.5" r="4.1" fill="#bdbdbd" stroke="#111" stroke-width="1"/>
<circle cx="1042.9" cy="434.6" r="4.1" fill="#bdbdbd" stroke="#111" stroke-width="1"/>
<circle cx="1046.6" cy="435.6" r="4.1" fill="#bdbdbd" stroke="#111" stroke-width="1"/>
<circle cx="1054.3" cy="435.5" r="4.1" fill="#bdbdbd" stroke="#111" stroke-width="1"/>
<circle cx="1060.9" cy="437.8" r="4.1" fill="#bdbdbd" stroke="#111" stroke-width="1"/>
<circle cx="1068.4" cy="437.2" r="4.1" fill="#bdbdbd" stroke="#111" stroke-width="1"/>
<circle cx="1057.7" cy="441.0" r="4.1" fill="#bdbdbd" stroke="#111" stroke-width="1"/>
<circle cx="1029.6" cy="442.5" r="4.1" fill="#bdbdbd" stroke="#111" stroke-width="1"/>
<circle cx="1041.3" cy="444.1" r="4.1" fill="#bdbdbd" stroke="#111" stroke-width="1"/>
<circle cx="1037.5" cy="444.7" r="4.1" fill="#bdbdbd" stroke="#111" stroke-width="1"/>
<circle cx="1033.3" cy="445.5" r="4.1" fill="#bdbdbd" stroke="#111" stroke-width="1"/>
<circle cx="1045.0" cy="443.6" r="4.1" fill="#bdbdbd" stroke="#111" stroke-width="1"/>
<circle cx="1050.3" cy="446.3" r="4.1" fill="#bdbdbd" stroke="#111" stroke-width="1"/>
<circle cx="1054.6" cy="445.2" r="4.1" fill="#bdbdbd" stroke="#111" stroke-width="1"/>
<circle cx="1062.0" cy="444.7" r="4.1" fill="#bdbdbd" stroke="#111" stroke-width="1"/>
<circle cx="1066.8" cy="445.2" r="4.1" fill="#bdbdbd" stroke="#111" stroke-width="1"/>
<circle cx="1082.7" cy="442.0" r="4.1" fill="#bdbdbd" stroke="#111" stroke-width="1"/>
<circle cx="1079.0" cy="444.7" r="4.1" fill="#bdbdbd" stroke="#111" stroke-width="1"/>
<circle cx="1075.3" cy="445.7" r="4.1" fill="#bdbdbd" stroke="#111" stroke-width="1"/>
<circle cx="1071.6" cy="448.9" r="4.1" fill="#bdbdbd" stroke="#111" stroke-width="1"/>
<circle cx="1064.7" cy="451.6" r="4.1" fill="#bdbdbd" stroke="#111" stroke-width="1"/>
<circle cx="1053.0" cy="452.6" r="4.1" fill="#bdbdbd" stroke="#111" stroke-width="1"/>
<circle cx="1047.6" cy="454.8" r="4.1" fill="#bdbdbd" stroke="#111" stroke-width="1"/>
<circle cx="1061.5" cy="455.8" r="4.1" fill="#bdbdbd" stroke="#111" stroke-width="1"/>
<circle cx="1068.9" cy="456.9" r="4.1" fill="#bdbdbd" stroke="#111" stroke-width="1"/>
<circle cx="1044.5" cy="457.4" r="4.1" fill="#bdbdbd" stroke="#111" stroke-width="1"/>
<circle cx="1039.7" cy="459.0" r="4.1" fill="#bdbdbd" stroke="#111" stroke-width="1"/>
<circle cx="1058.3" cy="459.0" r="4.1" fill="#bdbdbd" stroke="#111" stroke-width="1"/>
<circle cx="1054.0" cy="462.2" r="4.1" fill="#bdbdbd" stroke="#111" stroke-width="1"/>
<circle cx="1060.9" cy="463.3" r="4.1" fill="#bdbdbd" stroke="#111" stroke-width="1"/>
<circle cx="1073.7" cy="463.3" r="4.1" fill="#bdbdbd" stroke="#111" stroke-width="1"/>
<circle cx="1068.9" cy="464.3" r="4.1" fill="#bdbdbd" stroke="#111" stroke-width="1"/>
<circle cx="1043.9" cy="465.4" r="4.1" fill="#bdbdbd" stroke="#111" stroke-width="1"/>
<circle cx="1037.0" cy="469.1" r="4.1" fill="#bdbdbd" stroke="#111" stroke-width="1"/>
<circle cx="1050.8" cy="469.7" r="4.1" fill="#bdbdbd" stroke="#111" stroke-width="1"/>
<circle cx="1057.2" cy="469.1" r="4.1" fill="#bdbdbd" stroke="#111" stroke-width="1"/>
<circle cx="1064.7" cy="469.7" r="4.1" fill="#bdbdbd" stroke="#111" stroke-width="1"/>
<circle cx="1075.3" cy="469.1" r="4.1" fill="#bdbdbd" stroke="#111" stroke-width="1"/>
<circle cx="1130.7" cy="249.8" r="4.1" fill="#bdbdbd" stroke="#111" stroke-width="1"/>
<circle cx="1130.7" cy="269.8" r="4.1" fill="#bdbdbd" stroke="#111" stroke-width="1"/>
<circle cx="1130.7" cy="281.7" r="4.1" fill="#bdbdbd" stroke="#111" stroke-width="1"/>
<circle cx="1136.1" cy="293.6" r="4.1" fill="#bdbdbd" stroke="#111" stroke-width="1"/>
<circle cx="1130.7" cy="296.9" r="4.1" fill="#bdbdbd" stroke="#111" stroke-width="1"/>
<circle cx="1130.7" cy="309.9" r="4.1" fill="#bdbdbd" stroke="#111" stroke-width="1"/>
<circle cx="1130.7" cy="327.6" r="4.1" fill="#bdbdbd" stroke="#111" stroke-width="1"/>
<circle cx="1125.4" cy="330.6" r="4.1" fill="#bdbdbd" stroke="#111" stroke-width="1"/>
<circle cx="1136.1" cy="329.8" r="4.1" fill="#bdbdbd" stroke="#111" stroke-width="1"/>
<circle cx="1130.7" cy="340.6" r="4.1" fill="#bdbdbd" stroke="#111" stroke-width="1"/>
<circle cx="1125.8" cy="349.1" r="4.1" fill="#bdbdbd" stroke="#111" stroke-width="1"/>
<circle cx="1136.1" cy="347.2" r="4.1" fill="#bdbdbd" stroke="#111" stroke-width="1"/>
<circle cx="1120.2" cy="354.7" r="4.1" fill="#bdbdbd" stroke="#111" stroke-width="1"/>
<circle cx="1141.3" cy="362.8" r="4.1" fill="#bdbdbd" stroke="#111" stroke-width="1"/>
<circle cx="1125.8" cy="363.2" r="4.1" fill="#bdbdbd" stroke="#111" stroke-width="1"/>
<circle cx="1120.2" cy="368.7" r="4.1" fill="#bdbdbd" stroke="#111" stroke-width="1"/>
<circle cx="1130.6" cy="369.5" r="4.1" fill="#bdbdbd" stroke="#111" stroke-width="1"/>
<circle cx="1136.1" cy="373.2" r="4.1" fill="#bdbdbd" stroke="#111" stroke-width="1"/>
<circle cx="1125.4" cy="378.0" r="4.1" fill="#bdbdbd" stroke="#111" stroke-width="1"/>
<circle cx="1130.7" cy="389.5" r="4.1" fill="#bdbdbd" stroke="#111" stroke-width="1"/>
<circle cx="1130.8" cy="400.2" r="4.1" fill="#bdbdbd" stroke="#111" stroke-width="1"/>
<circle cx="1125.4" cy="407.6" r="4.1" fill="#bdbdbd" stroke="#111" stroke-width="1"/>
<circle cx="1135.9" cy="411.8" r="4.1" fill="#bdbdbd" stroke="#111" stroke-width="1"/>
<circle cx="1125.4" cy="417.4" r="4.1" fill="#bdbdbd" stroke="#111" stroke-width="1"/>
<circle cx="1152.0" cy="430.3" r="4.1" fill="#bdbdbd" stroke="#111" stroke-width="1"/>
<circle cx="1146.7" cy="430.7" r="4.1" fill="#bdbdbd" stroke="#111" stroke-width="1"/>
<circle cx="1141.5" cy="433.8" r="4.1" fill="#bdbdbd" stroke="#111" stroke-width="1"/>
<circle cx="1114.6" cy="434.5" r="4.1" fill="#bdbdbd" stroke="#111" stroke-width="1"/>
<circle cx="1119.8" cy="435.2" r="4.1" fill="#bdbdbd" stroke="#111" stroke-width="1"/>
<circle cx="1125.1" cy="436.6" r="4.1" fill="#bdbdbd" stroke="#111" stroke-width="1"/>
<circle cx="1136.3" cy="437.7" r="4.1" fill="#bdbdbd" stroke="#111" stroke-width="1"/>
<circle cx="1130.8" cy="439.1" r="4.1" fill="#bdbdbd" stroke="#111" stroke-width="1"/>
<circle cx="1140.5" cy="446.7" r="4.1" fill="#bdbdbd" stroke="#111" stroke-width="1"/>
<circle cx="1146.4" cy="447.4" r="4.1" fill="#bdbdbd" stroke="#111" stroke-width="1"/>
<circle cx="1114.6" cy="450.6" r="4.1" fill="#bdbdbd" stroke="#111" stroke-width="1"/>
<circle cx="1119.8" cy="452.0" r="4.1" fill="#bdbdbd" stroke="#111" stroke-width="1"/>
<circle cx="1125.1" cy="452.3" r="4.1" fill="#bdbdbd" stroke="#111" stroke-width="1"/>
<circle cx="1130.8" cy="456.5" r="4.1" fill="#bdbdbd" stroke="#111" stroke-width="1"/>
<circle cx="1141.2" cy="456.5" r="4.1" fill="#bdbdbd" stroke="#111" stroke-width="1"/>
<circle cx="1151.3" cy="456.5" r="4.1" fill="#bdbdbd" stroke="#111" stroke-width="1"/>
<circle cx="1156.9" cy="457.9" r="4.1" fill="#bdbdbd" stroke="#111" stroke-width="1"/>
<circle cx="1104.4" cy="457.6" r="4.1" fill="#bdbdbd" stroke="#111" stroke-width="1"/>
<circle cx="1114.9" cy="460.4" r="4.1" fill="#bdbdbd" stroke="#111" stroke-width="1"/>
<circle cx="1125.8" cy="462.1" r="4.1" fill="#bdbdbd" stroke="#111" stroke-width="1"/>
<circle cx="1135.6" cy="462.8" r="4.1" fill="#bdbdbd" stroke="#111" stroke-width="1"/>
<circle cx="1146.7" cy="465.6" r="4.1" fill="#bdbdbd" stroke="#111" stroke-width="1"/>
<circle cx="1109.7" cy="466.0" r="4.1" fill="#bdbdbd" stroke="#111" stroke-width="1"/>
<circle cx="1120.2" cy="465.6" r="4.1" fill="#bdbdbd" stroke="#111" stroke-width="1"/>
<circle cx="1141.2" cy="466.3" r="4.1" fill="#bdbdbd" stroke="#111" stroke-width="1"/>
<circle cx="1151.6" cy="468.4" r="4.1" fill="#bdbdbd" stroke="#111" stroke-width="1"/>
<circle cx="1130.7" cy="469.5" r="4.1" fill="#bdbdbd" stroke="#111" stroke-width="1"/>
<circle cx="1210.0" cy="194.5" r="4.1" fill="#bdbdbd" stroke="#111" stroke-width="1"/>
<circle cx="1205.6" cy="200.0" r="4.1" fill="#bdbdbd" stroke="#111" stroke-width="1"/>
<circle cx="1205.6" cy="224.8" r="4.1" fill="#bdbdbd" stroke="#111" stroke-width="1"/>
<circle cx="1202.6" cy="250.4" r="4.1" fill="#bdbdbd" stroke="#111" stroke-width="1"/>
<circle cx="1208.9" cy="250.8" r="4.1" fill="#bdbdbd" stroke="#111" stroke-width="1"/>
<circle cx="1205.6" cy="261.5" r="4.1" fill="#bdbdbd" stroke="#111" stroke-width="1"/>
<circle cx="1202.6" cy="272.2" r="4.1" fill="#bdbdbd" stroke="#111" stroke-width="1"/>
<circle cx="1208.8" cy="275.1" r="4.1" fill="#bdbdbd" stroke="#111" stroke-width="1"/>
<circle cx="1205.5" cy="282.4" r="4.1" fill="#bdbdbd" stroke="#111" stroke-width="1"/>
<circle cx="1209.5" cy="290.9" r="4.1" fill="#bdbdbd" stroke="#111" stroke-width="1"/>
<circle cx="1202.9" cy="292.6" r="4.1" fill="#bdbdbd" stroke="#111" stroke-width="1"/>
<circle cx="1196.7" cy="298.2" r="4.1" fill="#bdbdbd" stroke="#111" stroke-width="1"/>
<circle cx="1215.1" cy="296.5" r="4.1" fill="#bdbdbd" stroke="#111" stroke-width="1"/>
<circle cx="1208.8" cy="299.2" r="4.1" fill="#bdbdbd" stroke="#111" stroke-width="1"/>
<circle cx="1202.6" cy="302.8" r="4.1" fill="#bdbdbd" stroke="#111" stroke-width="1"/>
<circle cx="1205.5" cy="312.0" r="4.1" fill="#bdbdbd" stroke="#111" stroke-width="1"/>
<circle cx="1209.2" cy="316.9" r="4.1" fill="#bdbdbd" stroke="#111" stroke-width="1"/>
<circle cx="1202.9" cy="319.9" r="4.1" fill="#bdbdbd" stroke="#111" stroke-width="1"/>
<circle cx="1205.5" cy="328.1" r="4.1" fill="#bdbdbd" stroke="#111" stroke-width="1"/>
<circle cx="1205.3" cy="333.5" r="4.1" fill="#bdbdbd" stroke="#111" stroke-width="1"/>
<circle cx="1199.9" cy="337.6" r="4.1" fill="#bdbdbd" stroke="#111" stroke-width="1"/>
<circle cx="1211.7" cy="336.3" r="4.1" fill="#bdbdbd" stroke="#111" stroke-width="1"/>
<circle cx="1199.0" cy="349.3" r="4.1" fill="#bdbdbd" stroke="#111" stroke-width="1"/>
<circle cx="1204.8" cy="349.3" r="4.1" fill="#bdbdbd" stroke="#111" stroke-width="1"/>
<circle cx="1211.7" cy="349.9" r="4.1" fill="#bdbdbd" stroke="#111" stroke-width="1"/>
<circle cx="1193.8" cy="356.2" r="4.1" fill="#bdbdbd" stroke="#111" stroke-width="1"/>
<circle cx="1205.6" cy="355.9" r="4.1" fill="#bdbdbd" stroke="#111" stroke-width="1"/>
<circle cx="1199.9" cy="359.7" r="4.1" fill="#bdbdbd" stroke="#111" stroke-width="1"/>
<circle cx="1211.7" cy="359.4" r="4.1" fill="#bdbdbd" stroke="#111" stroke-width="1"/>
<circle cx="1218.3" cy="358.0" r="4.1" fill="#bdbdbd" stroke="#111" stroke-width="1"/>
<circle cx="1205.9" cy="364.9" r="4.1" fill="#bdbdbd" stroke="#111" stroke-width="1"/>
<circle cx="1199.9" cy="371.8" r="4.1" fill="#bdbdbd" stroke="#111" stroke-width="1"/>
<circle cx="1211.7" cy="371.8" r="4.1" fill="#bdbdbd" stroke="#111" stroke-width="1"/>
<circle cx="1203.0" cy="377.8" r="4.1" fill="#bdbdbd" stroke="#111" stroke-width="1"/>
<circle cx="1209.7" cy="377.3" r="4.1" fill="#bdbdbd" stroke="#111" stroke-width="1"/>
<circle cx="1191.2" cy="383.6" r="4.1" fill="#bdbdbd" stroke="#111" stroke-width="1"/>
<circle cx="1215.1" cy="384.5" r="4.1" fill="#bdbdbd" stroke="#111" stroke-width="1"/>
<circle cx="1208.8" cy="386.2" r="4.1" fill="#bdbdbd" stroke="#111" stroke-width="1"/>
<circle cx="1220.0" cy="389.1" r="4.1" fill="#bdbdbd" stroke="#111" stroke-width="1"/>
<circle cx="1197.9" cy="390.2" r="4.1" fill="#bdbdbd" stroke="#111" stroke-width="1"/>
<circle cx="1203.3" cy="390.5" r="4.1" fill="#bdbdbd" stroke="#111" stroke-width="1"/>
<circle cx="1190.6" cy="392.8" r="4.1" fill="#bdbdbd" stroke="#111" stroke-width="1"/>
<circle cx="1196.1" cy="397.4" r="4.1" fill="#bdbdbd" stroke="#111" stroke-width="1"/>
<circle cx="1201.9" cy="398.0" r="4.1" fill="#bdbdbd" stroke="#111" stroke-width="1"/>
<circle cx="1207.6" cy="397.7" r="4.1" fill="#bdbdbd" stroke="#111" stroke-width="1"/>
<circle cx="1214.0" cy="397.4" r="4.1" fill="#bdbdbd" stroke="#111" stroke-width="1"/>
<circle cx="1220.0" cy="399.5" r="4.1" fill="#bdbdbd" stroke="#111" stroke-width="1"/>
<circle cx="1203.4" cy="404.1" r="4.1" fill="#bdbdbd" stroke="#111" stroke-width="1"/>
<circle cx="1209.6" cy="403.6" r="4.1" fill="#bdbdbd" stroke="#111" stroke-width="1"/>
<circle cx="1197.2" cy="408.6" r="4.1" fill="#bdbdbd" stroke="#111" stroke-width="1"/>
<circle cx="1214.7" cy="410.3" r="4.1" fill="#bdbdbd" stroke="#111" stroke-width="1"/>
<circle cx="1179.1" cy="413.4" r="4.1" fill="#bdbdbd" stroke="#111" stroke-width="1"/>
<circle cx="1191.0" cy="413.4" r="4.1" fill="#bdbdbd" stroke="#111" stroke-width="1"/>
<circle cx="1202.8" cy="413.7" r="4.1" fill="#bdbdbd" stroke="#111" stroke-width="1"/>
<circle cx="1219.8" cy="413.7" r="4.1" fill="#bdbdbd" stroke="#111" stroke-width="1"/>
<circle cx="1232.2" cy="414.6" r="4.1" fill="#bdbdbd" stroke="#111" stroke-width="1"/>
<circle cx="1185.0" cy="417.7" r="4.1" fill="#bdbdbd" stroke="#111" stroke-width="1"/>
<circle cx="1196.6" cy="418.8" r="4.1" fill="#bdbdbd" stroke="#111" stroke-width="1"/>
<circle cx="1208.2" cy="417.1" r="4.1" fill="#bdbdbd" stroke="#111" stroke-width="1"/>
<circle cx="1214.1" cy="419.4" r="4.1" fill="#bdbdbd" stroke="#111" stroke-width="1"/>
<circle cx="1226.0" cy="417.1" r="4.1" fill="#bdbdbd" stroke="#111" stroke-width="1"/>
<circle cx="1199.7" cy="421.9" r="4.1" fill="#bdbdbd" stroke="#111" stroke-width="1"/>
<circle cx="1212.4" cy="426.1" r="4.1" fill="#bdbdbd" stroke="#111" stroke-width="1"/>
<circle cx="1194.4" cy="427.8" r="4.1" fill="#bdbdbd" stroke="#111" stroke-width="1"/>
<circle cx="1205.7" cy="428.1" r="4.1" fill="#bdbdbd" stroke="#111" stroke-width="1"/>
<circle cx="1217.5" cy="429.5" r="4.1" fill="#bdbdbd" stroke="#111" stroke-width="1"/>
<circle cx="1185.0" cy="430.7" r="4.1" fill="#bdbdbd" stroke="#111" stroke-width="1"/>
<circle cx="1195.8" cy="430.6" r="4.1" fill="#bdbdbd" stroke="#111" stroke-width="1"/>
<circle cx="1226.0" cy="431.8" r="4.1" fill="#bdbdbd" stroke="#111" stroke-width="1"/>
<circle cx="1220.1" cy="432.9" r="4.1" fill="#bdbdbd" stroke="#111" stroke-width="1"/>
<circle cx="1231.9" cy="433.2" r="4.1" fill="#bdbdbd" stroke="#111" stroke-width="1"/>
<circle cx="1190.7" cy="434.6" r="4.1" fill="#bdbdbd" stroke="#111" stroke-width="1"/>
<circle cx="1195.8" cy="436.8" r="4.1" fill="#bdbdbd" stroke="#111" stroke-width="1"/>
<circle cx="1202.3" cy="437.3" r="4.1" fill="#bdbdbd" stroke="#111" stroke-width="1"/>
<circle cx="1178.6" cy="438.0" r="4.1" fill="#bdbdbd" stroke="#111" stroke-width="1"/>
<circle cx="1208.5" cy="438.5" r="4.1" fill="#bdbdbd" stroke="#111" stroke-width="1"/>
<circle cx="1215.3" cy="437.9" r="4.1" fill="#bdbdbd" stroke="#111" stroke-width="1"/>
<circle cx="1184.8" cy="439.5" r="4.1" fill="#bdbdbd" stroke="#111" stroke-width="1"/>
<circle cx="1196.9" cy="442.4" r="4.1" fill="#bdbdbd" stroke="#111" stroke-width="1"/>
<circle cx="1208.2" cy="443.0" r="4.1" fill="#bdbdbd" stroke="#111" stroke-width="1"/>
<circle cx="1226.0" cy="443.0" r="4.1" fill="#bdbdbd" stroke="#111" stroke-width="1"/>
<circle cx="1214.1" cy="444.7" r="4.1" fill="#bdbdbd" stroke="#111" stroke-width="1"/>
<circle cx="1179.4" cy="445.0" r="4.1" fill="#bdbdbd" stroke="#111" stroke-width="1"/>
<circle cx="1191.0" cy="446.4" r="4.1" fill="#bdbdbd" stroke="#111" stroke-width="1"/>
<circle cx="1202.5" cy="448.1" r="4.1" fill="#bdbdbd" stroke="#111" stroke-width="1"/>
<circle cx="1231.9" cy="448.9" r="4.1" fill="#bdbdbd" stroke="#111" stroke-width="1"/>
<circle cx="1220.6" cy="451.5" r="4.1" fill="#bdbdbd" stroke="#111" stroke-width="1"/>
<circle cx="1191.0" cy="452.0" r="4.1" fill="#bdbdbd" stroke="#111" stroke-width="1"/>
<circle cx="1214.7" cy="453.7" r="4.1" fill="#bdbdbd" stroke="#111" stroke-width="1"/>
<circle cx="1209.6" cy="455.4" r="4.1" fill="#bdbdbd" stroke="#111" stroke-width="1"/>
<circle cx="1184.8" cy="456.5" r="4.1" fill="#bdbdbd" stroke="#111" stroke-width="1"/>
<circle cx="1196.1" cy="457.7" r="4.1" fill="#bdbdbd" stroke="#111" stroke-width="1"/>
<circle cx="1202.8" cy="457.7" r="4.1" fill="#bdbdbd" stroke="#111" stroke-width="1"/>
<circle cx="1226.3" cy="458.2" r="4.1" fill="#bdbdbd" stroke="#111" stroke-width="1"/>
<circle cx="1187.6" cy="460.5" r="4.1" fill="#bdbdbd" stroke="#111" stroke-width="1"/>
<circle cx="1200.0" cy="463.3" r="4.1" fill="#bdbdbd" stroke="#111" stroke-width="1"/>
<circle cx="1211.3" cy="463.3" r="4.1" fill="#bdbdbd" stroke="#111" stroke-width="1"/>
<circle cx="1193.8" cy="464.7" r="4.1" fill="#bdbdbd" stroke="#111" stroke-width="1"/>
<circle cx="1223.2" cy="465.6" r="4.1" fill="#bdbdbd" stroke="#111" stroke-width="1"/>
<circle cx="1182.2" cy="467.0" r="4.1" fill="#bdbdbd" stroke="#111" stroke-width="1"/>
<circle cx="1217.2" cy="467.8" r="4.1" fill="#bdbdbd" stroke="#111" stroke-width="1"/>
<circle cx="1229.1" cy="467.5" r="4.1" fill="#bdbdbd" stroke="#111" stroke-width="1"/>
<circle cx="1205.7" cy="469.2" r="4.1" fill="#bdbdbd" stroke="#111" stroke-width="1"/>
<circle cx="1289.2" cy="293.2" r="4.1" fill="#bdbdbd" stroke="#111" stroke-width="1"/>
<circle cx="1271.9" cy="299.6" r="4.1" fill="#bdbdbd" stroke="#111" stroke-width="1"/>
<circle cx="1280.3" cy="309.2" r="4.1" fill="#bdbdbd" stroke="#111" stroke-width="1"/>
<circle cx="1271.9" cy="347.1" r="4.1" fill="#bdbdbd" stroke="#111" stroke-width="1"/>
<circle cx="1289.2" cy="354.5" r="4.1" fill="#bdbdbd" stroke="#111" stroke-width="1"/>
<circle cx="1280.3" cy="378.6" r="4.1" fill="#bdbdbd" stroke="#111" stroke-width="1"/>
<circle cx="1254.4" cy="397.6" r="4.1" fill="#bdbdbd" stroke="#111" stroke-width="1"/>
<circle cx="1289.2" cy="398.1" r="4.1" fill="#bdbdbd" stroke="#111" stroke-width="1"/>
<circle cx="1306.8" cy="404.6" r="4.1" fill="#bdbdbd" stroke="#111" stroke-width="1"/>
<circle cx="1254.4" cy="407.6" r="4.1" fill="#bdbdbd" stroke="#111" stroke-width="1"/>
<circle cx="1289.2" cy="408.4" r="4.1" fill="#bdbdbd" stroke="#111" stroke-width="1"/>
<circle cx="1271.8" cy="409.7" r="4.1" fill="#bdbdbd" stroke="#111" stroke-width="1"/>
<circle cx="1306.8" cy="416.7" r="4.1" fill="#bdbdbd" stroke="#111" stroke-width="1"/>
<circle cx="1271.8" cy="442.6" r="4.1" fill="#bdbdbd" stroke="#111" stroke-width="1"/>
<circle cx="1289.2" cy="442.6" r="4.1" fill="#bdbdbd" stroke="#111" stroke-width="1"/>
<circle cx="1280.3" cy="458.6" r="4.1" fill="#bdbdbd" stroke="#111" stroke-width="1"/>
<circle cx="1297.7" cy="461.6" r="4.1" fill="#bdbdbd" stroke="#111" stroke-width="1"/>
<circle cx="1262.9" cy="465.5" r="4.1" fill="#bdbdbd" stroke="#111" stroke-width="1"/>
<circle cx="1055.6" cy="190" r="4.8" fill="#ff0000" stroke="#111" stroke-width="1.1"/>
<circle cx="1131.0" cy="190" r="4.8" fill="#ff0000" stroke="#111" stroke-width="1.1"/>
<circle cx="1202.6" cy="190" r="4.8" fill="#ff0000" stroke="#111" stroke-width="1.1"/>
<circle cx="1280.2" cy="190" r="4.8" fill="#ff0000" stroke="#111" stroke-width="1.1"/>
</svg>
</body></html>
